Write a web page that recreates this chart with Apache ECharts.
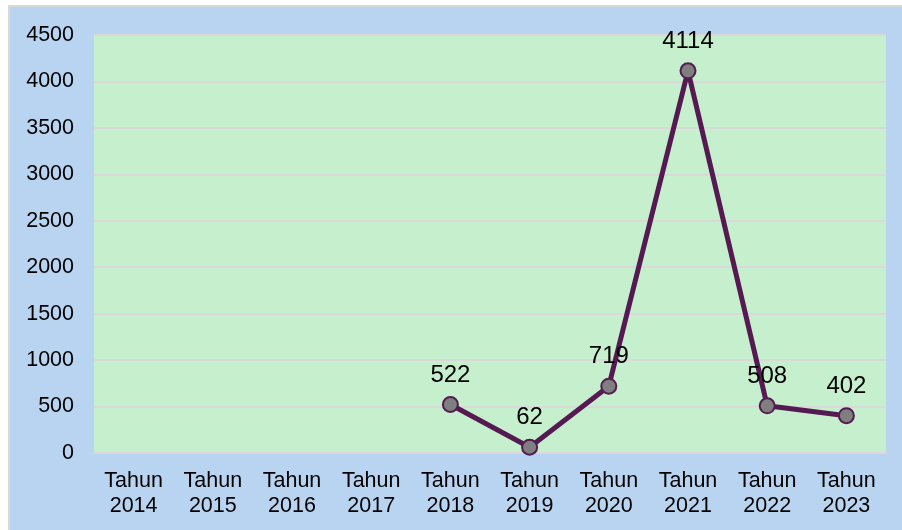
<!DOCTYPE html>
<html><head><meta charset="utf-8">
<script src="https://cdn.jsdelivr.net/npm/echarts@6/dist/echarts.min.js"></script>
<style>
html,body{margin:0;padding:0;background:#ffffff;width:902px;height:530px;overflow:hidden;}
#c{position:absolute;left:8px;top:5px;width:894px;height:530px;border:2px solid #d9d9d9;border-right:none;border-bottom:none;background:#b9d4f0;}
</style></head>
<body><div id="c"></div>
<script>
const categories = ['Tahun\n2014','Tahun\n2015','Tahun\n2016','Tahun\n2017','Tahun\n2018','Tahun\n2019','Tahun\n2020','Tahun\n2021','Tahun\n2022','Tahun\n2023'];
const values = [null, null, null, null, 522, 62, 719, 4114, 508, 402];
const yMin = 0, yMax = 4500, yStep = 500;

const chart = echarts.init(document.getElementById('c'), null, {renderer:'canvas'});
chart.setOption({
  animation:false,
  backgroundColor:'#b9d4f0',
  textStyle:{fontFamily:'Liberation Sans, Arial, sans-serif'},
  grid:{left:84, top:28, width:792, height:418, show:true, backgroundColor:'#c6efce', borderWidth:0},
  xAxis:{
    type:'category', data:categories, boundaryGap:true,
    axisLine:{show:true, lineStyle:{color:'#d9d9d9', width:2}},
    axisTick:{show:false},
    axisLabel:{color:'#000', fontSize:21.5, lineHeight:25, margin:16, interval:0}
  },
  yAxis:{
    type:'value', min:yMin, max:yMax, interval:yStep,
    axisLine:{show:false}, axisTick:{show:false},
    axisLabel:{color:'#000', fontSize:21.5, margin:20, formatter:v => String(v)},
    splitLine:{lineStyle:{color:'#d9d9d9', width:2}}
  },
  series:[{
    type:'line', data:values, connectNulls:false,
    symbol:'circle', symbolSize:15,
    lineStyle:{color:'#561a52', width:5},
    itemStyle:{color:'#7f7f7f', borderColor:'#561a52', borderWidth:2},
    label:{show:true, position:'top', distance:9, color:'#000', fontSize:24}
  }]
});
</script></body></html>
